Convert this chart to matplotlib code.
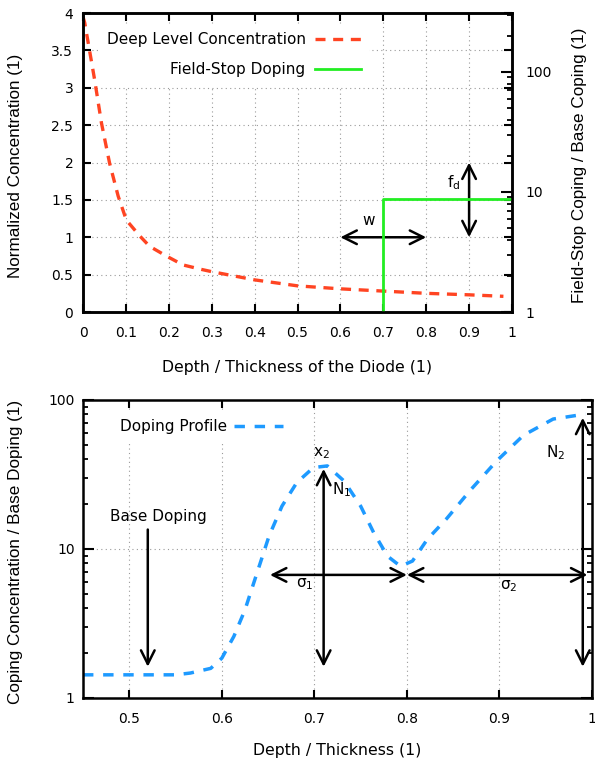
import matplotlib
matplotlib.use('Agg')
import matplotlib.pyplot as plt
from matplotlib.ticker import LogLocator, NullFormatter

plt.rcParams['font.family'] = 'DejaVu Sans'
plt.rcParams['font.size'] = 10

RED = '#ff4422'
GREEN = '#22ee22'
BLUE = '#1e9aff'
GRIDC = '#9a9a9a'

# ── data ─────────────────────────────────────────────────────────────────────
deep_x = [0.0, 0.004, 0.027, 0.043, 0.062, 0.082, 0.101, 0.132, 0.155, 0.194,
          0.233, 0.276, 0.3, 0.4, 0.5, 0.6, 0.7, 0.8, 0.9, 0.98]
deep_y = [3.95, 3.87, 3.11, 2.53, 1.99, 1.55, 1.23, 1.02, 0.88, 0.75,
          0.63, 0.57, 0.54, 0.43, 0.35, 0.31, 0.28, 0.25, 0.23, 0.21]

fs_x = [0.7, 0.7, 1.0]
fs_y = [1.0, 8.7, 8.7]

prof_x = [0.45, 0.5, 0.55, 0.566, 0.588, 0.600, 0.613, 0.625, 0.638, 0.651,
          0.665, 0.681, 0.699, 0.714, 0.732, 0.750, 0.764, 0.779, 0.793, 0.806,
          0.822, 0.843, 0.869, 0.897, 0.926, 0.958, 0.993]
prof_y = [1.43, 1.43, 1.43, 1.47, 1.58, 1.85, 2.59, 3.9, 6.9, 12.2,
          19.4, 27.9, 35.2, 36.1, 28.6, 19.4, 12.9, 8.95, 7.66, 8.3,
          11.6, 16.0, 25.0, 39.0, 58.0, 74.5, 80.5]

top_xticks = [0, 0.1, 0.2, 0.3, 0.4, 0.5, 0.6, 0.7, 0.8, 0.9, 1.0]
top_xlabels = ['0', '0.1', '0.2', '0.3', '0.4', '0.5', '0.6', '0.7', '0.8', '0.9', '1']
top_yticks = [0, 0.5, 1, 1.5, 2, 2.5, 3, 3.5, 4]
top_ylabels = ['0', '0.5', '1', '1.5', '2', '2.5', '3', '3.5', '4']
bot_xticks = [0.5, 0.6, 0.7, 0.8, 0.9, 1.0]
bot_xlabels = ['0.5', '0.6', '0.7', '0.8', '0.9', '1']
log_ticks = [1, 10, 100]
log_labels = ['1', '10', '100']

TXT = 11
XLAB = 11.3
YLAB = 12.3

fig = plt.figure(figsize=(5.95, 7.67), dpi=100)
ax1 = fig.add_axes([0.1395, 0.5932, 0.721, 0.3898])
ax1b = ax1.twinx()
ax2 = fig.add_axes([0.1395, 0.09, 0.8555, 0.3885])

def frame(ax):
    for s in ax.spines.values():
        s.set_linewidth(1.8)
    ax.tick_params(which='major', direction='in', length=6, width=1.5)
    ax.tick_params(which='minor', direction='in', length=3.5, width=1.3)

grid_kw = dict(linestyle=(0, (1, 3)), color=GRIDC, lw=0.8)
arrow_kw = dict(arrowstyle='<->,head_length=0.7,head_width=0.35', color='black',
                lw=1.8, mutation_scale=14, shrinkA=0, shrinkB=0)

# ── top panel ────────────────────────────────────────────────────────────────
frame(ax1)
frame(ax1b)
ax1.set_xlim(0, 1)
ax1.set_ylim(0, 4)
ax1.set_xticks(top_xticks, top_xlabels)
ax1.set_yticks(top_yticks, top_ylabels)
ax1.tick_params(top=True, right=True, pad=7)
ax1.tick_params(axis='x', pad=10)
ax1.grid(True, **grid_kw)

red_line, = ax1.plot(deep_x, deep_y, color=RED, lw=2.4, dashes=(3, 2.3),
                     label='Deep Level Concentration')

ax1b.set_yscale('log')
ax1b.set_ylim(1, 10 ** 2.49)
ax1b.set_yticks(log_ticks, log_labels)
ax1b.yaxis.set_minor_locator(LogLocator(base=10, subs=range(2, 10)))
ax1b.yaxis.set_minor_formatter(NullFormatter())
ax1b.tick_params(axis='y', which='both', pad=10)
ax1b.tick_params(axis='y', which='major', length=8)
green_line, = ax1b.plot(fs_x, fs_y, color=GREEN, lw=2.0, label='Field-Stop Doping')

ax1.annotate('', xy=(0.6, 1.0), xytext=(0.8, 1.0), arrowprops=arrow_kw)
ax1.annotate('', xy=(0.9, 1.0), xytext=(0.9, 2.0), arrowprops=arrow_kw)
ax1.text(0.665, 1.23, 'w', ha='center', va='center', fontsize=TXT)
ax1.text(0.863, 1.73, r'f$_\mathregular{d}$', ha='center', va='center', fontsize=TXT)

ax1b.legend([red_line, green_line],
            ['Deep Level Concentration', 'Field-Stop Doping'],
            loc='upper left', bbox_to_anchor=(0.037, 0.962), markerfirst=False,
            frameon=True, facecolor='white', edgecolor='white', framealpha=1,
            fancybox=False, handlelength=3.0, handletextpad=0.6, fontsize=TXT,
            labelspacing=1.0, borderpad=0.5, borderaxespad=0)

ax1.set_xlabel('Depth / Thickness of the Diode (1)', fontsize=XLAB)
ax1.xaxis.set_label_coords(0.5, -0.16)
ax1.set_ylabel('Normalized Concentration (1)', family='Liberation Sans', fontsize=YLAB)
ax1.yaxis.set_label_coords(-0.14, 0.49)
ax1b.set_ylabel('Field-Stop Coping / Base Coping (1)', family='Liberation Sans',
                fontsize=YLAB)
ax1b.yaxis.set_label_coords(1.14, 0.49)

# ── bottom panel ─────────────────────────────────────────────────────────────
frame(ax2)
ax2.set_yscale('log')
ax2.set_xlim(0.45, 1.0)
ax2.set_ylim(1, 100)
ax2.set_xticks(bot_xticks, bot_xlabels)
ax2.set_yticks(log_ticks, log_labels)
ax2.yaxis.set_minor_locator(LogLocator(base=10, subs=range(2, 10)))
ax2.yaxis.set_minor_formatter(NullFormatter())
ax2.tick_params(which='both', top=True, right=True)
ax2.tick_params(axis='y', which='major', length=8, pad=6)
ax2.tick_params(axis='x', pad=10)
ax2.grid(True, which='major', **grid_kw)

blue_line, = ax2.plot(prof_x, prof_y, color=BLUE, lw=2.5, dashes=(3, 2.8),
                      label='Doping Profile')

ax2.annotate('', xy=(0.52, 1.62), xytext=(0.52, 13.5),
             arrowprops=dict(arrow_kw, arrowstyle='->,head_length=0.7,head_width=0.35'))
ax2.annotate('', xy=(0.71, 1.62), xytext=(0.71, 34.5), arrowprops=arrow_kw)
ax2.annotate('', xy=(0.652, 6.7), xytext=(0.8, 6.7), arrowprops=arrow_kw)
ax2.annotate('', xy=(0.8, 6.7), xytext=(0.995, 6.7), arrowprops=arrow_kw)
ax2.annotate('', xy=(0.99, 1.62), xytext=(0.99, 76), arrowprops=arrow_kw)

ax2.text(0.531, 16.6, 'Base Doping', ha='center', va='center', fontsize=TXT)
ax2.text(0.708, 44, r'x$_\mathregular{2}$', ha='center', va='center', fontsize=TXT)
ax2.text(0.730, 25.2, r'N$_\mathregular{1}$', ha='center', va='center', fontsize=TXT)
ax2.text(0.690, 5.77, r'σ$_\mathregular{1}$', ha='center', va='center', fontsize=TXT)
ax2.text(0.910, 5.6, r'σ$_\mathregular{2}$', ha='center', va='center', fontsize=TXT)
ax2.text(0.961, 44, r'N$_\mathregular{2}$', ha='center', va='center', fontsize=TXT)

ax2.legend(loc='upper left', bbox_to_anchor=(0.057, 0.962), markerfirst=False,
           frameon=True, facecolor='white', edgecolor='white', framealpha=1,
           fancybox=False, handlelength=3.2, handletextpad=0.5, fontsize=TXT,
           borderpad=0.5, borderaxespad=0)

ax2.set_xlabel('Depth / Thickness (1)', fontsize=XLAB)
ax2.xaxis.set_label_coords(0.5, -0.15)
ax2.set_ylabel('Coping Concentration / Base Doping (1)', family='Liberation Sans',
               fontsize=YLAB)
ax2.yaxis.set_label_coords(-0.118, 0.49)

fig.savefig('out.png', dpi=100, facecolor='white')
